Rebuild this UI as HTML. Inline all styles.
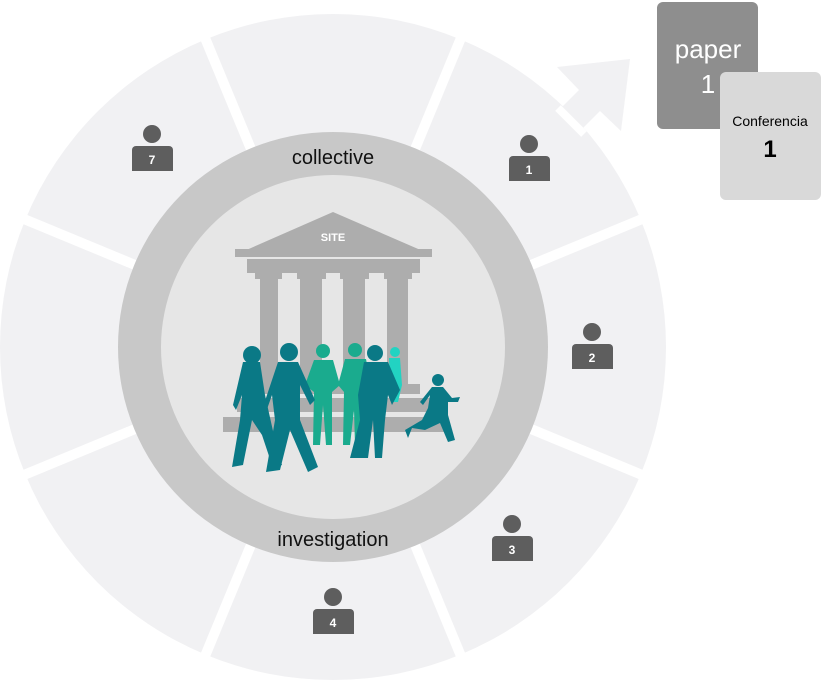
<!DOCTYPE html>
<html><head><meta charset="utf-8"><style>
html,body{margin:0;padding:0;background:#fff;width:822px;height:680px;overflow:hidden}
svg{display:block}
text{font-family:"Liberation Sans",Arial,sans-serif}
</style></head><body>
<svg width="822" height="680" viewBox="0 0 822 680" xmlns="http://www.w3.org/2000/svg">
<circle cx="333" cy="347" r="333" fill="#f1f1f3"/>
<polygon points="630,59 557,67 579,90 550,119 571,140 600,111 621,131" fill="#f1f1f3"/>
<line x1="558" y1="108" x2="584" y2="134" stroke="#fff" stroke-width="8"/>
<g stroke="#fff" stroke-width="10">
<line x1="250.7" y1="148.4" x2="202.9" y2="32.8"/>
<line x1="415.3" y1="148.4" x2="463.1" y2="32.8"/>
<line x1="531.6" y1="264.7" x2="647.2" y2="216.9"/>
<line x1="531.6" y1="429.3" x2="647.2" y2="477.1"/>
<line x1="415.3" y1="545.6" x2="463.1" y2="661.2"/>
<line x1="250.7" y1="545.6" x2="202.9" y2="661.2"/>
<line x1="134.4" y1="429.3" x2="18.8" y2="477.1"/>
<line x1="134.4" y1="264.7" x2="18.8" y2="216.9"/>
</g>
<circle cx="333" cy="347" r="215" fill="#c8c8c8"/>
<circle cx="333" cy="347" r="172" fill="#e6e6e6"/>
<text x="333" y="164" font-size="20" text-anchor="middle" fill="#111">collective</text>
<text x="333" y="546" font-size="20" text-anchor="middle" fill="#111">investigation</text>
<g fill="#adadad">
<polygon points="235,255 333,212 432,255"/>
<rect x="235" y="249" width="197" height="8"/>
<rect x="247" y="259" width="173" height="14"/>
<rect x="255" y="273" width="27" height="6"/><rect x="260" y="279" width="18" height="110"/>
<rect x="297" y="273" width="29" height="6"/><rect x="300" y="279" width="22" height="110"/>
<rect x="340" y="273" width="29" height="6"/><rect x="343" y="279" width="22" height="110"/>
<rect x="384" y="273" width="28" height="6"/><rect x="387" y="279" width="21" height="110"/>
<rect x="250" y="384" width="170" height="10"/>
<rect x="237" y="398" width="195" height="14"/>
<rect x="223" y="417" width="222" height="15"/>
</g>
<text x="333" y="241" font-size="11" font-weight="bold" text-anchor="middle" fill="#fff">SITE</text>
<g fill="#1aab8e">
<circle cx="323" cy="351" r="7"/>
<path d="M314 360 L333 360 L340 385 L332 392 L332 445 L326 445 L323 405 L320 445 L313 445 L314 392 L305 385 Z"/>
<circle cx="355" cy="350" r="7"/>
<path d="M345 359 L366 359 L372 390 L365 392 L362 445 L355 445 L354 410 L350 445 L343 445 L344 392 L338 385 Z"/>
</g>
<g fill="#22d3c2"><circle cx="395" cy="352" r="5"/><path d="M389 358 L400 358 L402 385 L398 402 L393 402 L390 385 Z"/></g>
<g fill="#0a7986">
<circle cx="252" cy="355" r="9"/>
<path d="M243 362 L260 362 L265 395 L275 440 L282 465 L273 468 L262 435 L252 420 L243 465 L232 467 L240 420 L242 395 L236 410 L233 405 Z"/>
<circle cx="289" cy="352" r="9"/>
<path d="M278 362 L298 362 L315 400 L310 405 L300 385 L300 420 L318 467 L308 472 L290 430 L280 470 L266 472 L275 420 L272 395 L266 412 L262 410 Z"/>
<circle cx="375" cy="353" r="8"/>
<path d="M364 362 L388 362 L400 390 L392 405 L388 395 L385 420 L382 458 L375 458 L373 420 L368 458 L350 458 L360 420 L358 395 Z"/>
<circle cx="438" cy="380" r="6"/>
<path d="M432 387 L443 387 L452 398 L460 397 L458 402 L448 402 L448 415 L455 440 L448 442 L440 423 L425 430 L412 428 L408 438 L405 430 L422 420 L428 408 L430 395 L423 405 L420 402 Z"/>
</g>
<g fill="#5e5e5e">
<circle cx="529" cy="144" r="9"/><path d="M509 160 a4 4 0 0 1 4 -4 h33 a4 4 0 0 1 4 4 v21 h-41 z"/>
<circle cx="592" cy="332" r="9"/><path d="M572 348 a4 4 0 0 1 4 -4 h33 a4 4 0 0 1 4 4 v21 h-41 z"/>
<circle cx="512" cy="524" r="9"/><path d="M492 540 a4 4 0 0 1 4 -4 h33 a4 4 0 0 1 4 4 v21 h-41 z"/>
<circle cx="333" cy="597" r="9"/><path d="M313 613 a4 4 0 0 1 4 -4 h33 a4 4 0 0 1 4 4 v21 h-41 z"/>
<circle cx="152" cy="134" r="9"/><path d="M132 150 a4 4 0 0 1 4 -4 h33 a4 4 0 0 1 4 4 v21 h-41 z"/>
</g>
<g fill="#fff" font-size="12" font-weight="bold" text-anchor="middle">
<text x="529" y="174">1</text><text x="592" y="362">2</text><text x="512" y="554">3</text><text x="333" y="627">4</text><text x="152" y="164">7</text>
</g>
<rect x="657" y="2" width="101" height="127" rx="6" fill="#8e8e8e"/>
<text x="708" y="58" font-size="26" fill="#fff" text-anchor="middle">paper</text>
<text x="708" y="93" font-size="26" fill="#fff" text-anchor="middle">1</text>
<rect x="720" y="72" width="101" height="128" rx="6" fill="#d9d9d9"/>
<text x="770" y="126" font-size="14" fill="#000" text-anchor="middle">Conferencia</text>
<text x="770" y="157" font-size="24" font-weight="bold" fill="#000" text-anchor="middle">1</text>
</svg>
</body></html>
